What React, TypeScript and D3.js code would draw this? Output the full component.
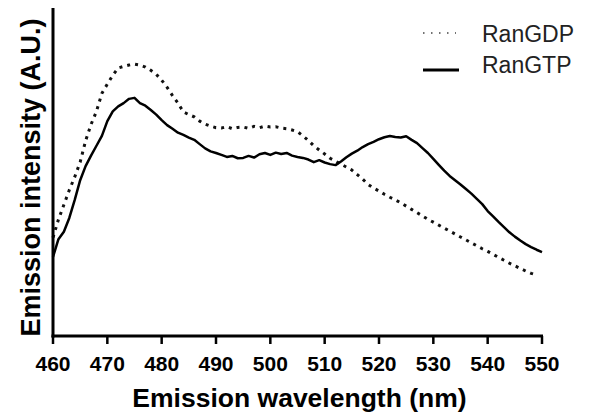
import React from "react";
import * as d3 from "d3";

const wavelengths: number[] = d3.range(460, 551, 1);

const ranGTP: number[] = [
  24.1, 29.5, 31.8, 36.0, 41.5, 47.5, 51.8, 55.0, 58.0, 61.0,
  65.5, 68.5, 70.0, 71.0, 72.3, 72.6, 71.0, 70.2, 68.9, 67.5,
  65.8, 64.3, 63.2, 62.0, 61.3, 60.5, 59.8, 58.5, 57.2, 56.3,
  55.8, 55.2, 54.6, 54.9, 54.2, 54.3, 54.9, 54.4, 55.4, 55.8,
  55.2, 55.9, 55.5, 55.8, 55.0, 54.6, 54.3, 53.8, 53.0, 53.6,
  52.9, 52.4, 52.1, 53.2, 54.5, 55.6, 56.5, 57.6, 58.5, 59.2,
  60.0, 60.6, 61.0, 60.7, 60.5, 60.9, 59.8, 58.8, 57.3, 55.8,
  54.0, 52.2, 50.4, 48.8, 47.5, 46.2, 44.8, 43.4, 41.8, 40.2,
  38.1, 36.5, 34.8, 33.2, 31.6, 30.3, 29.1, 28.0, 27.1, 26.3,
  25.6,
];

const ranGDP: number[] = [
  30.0, 35.5, 40.0, 44.5, 48.5, 53.0, 59.5, 64.5, 68.5, 74.0,
  76.8, 79.5, 81.7, 82.2, 82.6, 82.9, 82.6, 82.0, 81.0, 79.8,
  78.0, 75.8, 73.3, 71.0, 68.3, 67.5, 66.8, 65.5, 64.6, 64.0,
  63.5, 63.4, 63.8, 63.2, 63.6, 63.7, 63.3, 63.9, 63.5, 64.0,
  63.7, 63.8, 63.4, 63.2, 62.8, 62.3, 61.0, 59.6, 58.0, 56.7,
  55.5, 54.2, 53.3, 52.4, 51.5, 50.6, 49.2, 47.8, 46.2, 45.1,
  44.2, 43.2, 42.3, 41.5, 40.6, 39.6, 38.6, 37.6, 36.6, 35.6,
  34.7, 33.8, 32.9, 32.0, 31.1, 30.2, 29.3, 28.4, 27.5, 26.6,
  25.8, 24.9, 24.0, 23.1, 22.2, 21.4, 20.6, 19.8, 19.1, 18.6,
];

const xTicks: number[] = [460, 470, 480, 490, 500, 510, 520, 530, 540, 550];
const seriesNames: string[] = ["RanGDP", "RanGTP"];

const FONT = "'Liberation Sans', Arial, sans-serif";

export default function App() {
  const W = 597, H = 414;
  const left = 53, right = 542, top = 8, bottom = 336;
  const x = d3.scaleLinear().domain([460, 550]).range([left, right]);
  const y = d3.scaleLinear().domain([0, 100]).range([bottom, top]);

  const line = d3
    .line<[number, number]>()
    .x((d) => x(d[0]))
    .y((d) => y(d[1]));

  const gtpPts: [number, number][] = ranGTP.map((v, i) => [wavelengths[i], v]);
  const gdpPts: [number, number][] = ranGDP.map((v, i) => [wavelengths[i], v]);

  return (
    <svg
      width={W}
      height={H}
      style={{ position: "absolute", left: 0, top: 0, background: "#fff" }}
    >
      <rect x={0} y={0} width={W} height={H} fill="#fff" />
      {/* curves */}
      <path
        d={line(gdpPts) || ""}
        fill="none"
        stroke="#111"
        strokeWidth={3}
        strokeDasharray="3 5"
      />
      <path
        d={line(gtpPts) || ""}
        fill="none"
        stroke="#000"
        strokeWidth={2.5}
        strokeLinejoin="round"
      />
      {/* axes */}
      <line x1={left} x2={left} y1={top} y2={bottom + 1.5} stroke="#000" strokeWidth={3} />
      <line x1={left - 1.5} x2={right + 1} y1={bottom} y2={bottom} stroke="#000" strokeWidth={3} />
      {xTicks.map((t) => (
        <g key={t}>
          <line x1={x(t)} x2={x(t)} y1={bottom} y2={bottom + 8} stroke="#000" strokeWidth={2.5} />
          <text
            x={x(t)}
            y={371}
            textAnchor="middle"
            fontFamily={FONT}
            fontWeight="bold"
            fontSize={21}
            fill="#000"
          >
            {t}
          </text>
        </g>
      ))}
      <text
        x={(left + right) / 2 + 2}
        y={407}
        textAnchor="middle"
        fontFamily={FONT}
        fontWeight="bold"
        fontSize={26.5}
        fill="#000"
      >
        Emission wavelength (nm)
      </text>
      <text
        transform={`translate(40,${(18 + 337) / 2}) rotate(-90)`}
        textAnchor="middle"
        fontFamily={FONT}
        fontWeight="bold"
        fontSize={27}
        fill="#000"
      >
        Emission intensity (A.U.)
      </text>
      {/* legend */}
      <line x1={423} x2={456} y1={33} y2={33} stroke="#444" strokeWidth={1.5} strokeDasharray="1.5 6.5" />
      <line x1={423} x2={459} y1={70} y2={70} stroke="#000" strokeWidth={3} />
      {seriesNames.map((s, i) => (
        <text
          key={s}
          x={482}
          y={42 + i * 31}
          fontFamily={FONT}
          fontSize={23}
          fill="#222"
        >
          {s}
        </text>
      ))}
    </svg>
  );
}
